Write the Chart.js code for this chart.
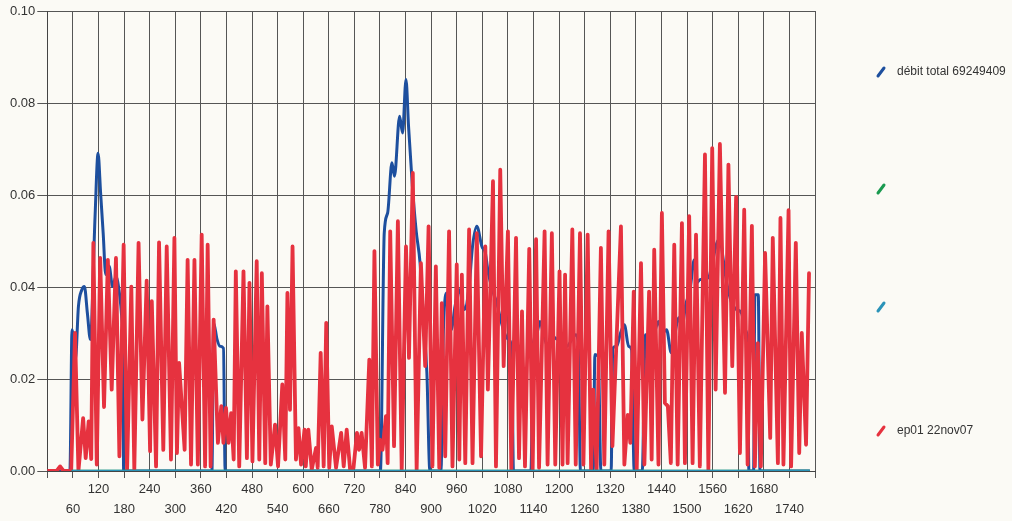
<!DOCTYPE html>
<html>
<head>
<meta charset="utf-8">
<script src="https://cdn.jsdelivr.net/npm/chart.js@4"></script>
<style>
  body { margin: 0; background: #fbfaf5; }
  #wrap { width: 1012px; height: 521px; }
</style>
</head>
<body>
<div id="wrap"><canvas id="chart"></canvas></div>
<script>
// time (x) and rate (y)
const redTime = [
  0, 22, 30, 38, 56, 65, 73, 84, 90, 97,
  103, 108, 116, 124, 133, 142, 151, 161, 169, 179,
  187, 197, 204, 214, 223, 233, 241, 245, 255, 262,
  272, 280, 290, 298, 304, 309, 322, 329, 337, 345,
  353, 362, 370, 376, 383, 390, 400, 408, 413, 419,
  425, 431, 437, 442, 450, 460, 468, 474, 481, 491,
  497, 503, 511, 516, 524, 534, 541, 551, 558, 563,
  569, 575, 583, 589, 595, 603, 606, 612, 620, 630,
  634, 641, 648, 654, 661, 667, 677, 689, 695, 702,
  710, 718, 726, 731, 737, 745, 755, 761, 767, 775,
  780, 786, 794, 798, 804, 813, 822, 831, 841, 848,
  857, 866, 876, 886, 894, 903, 911, 919, 925, 933,
  942, 950, 960, 966, 972, 980, 989, 997, 1007, 1017,
  1027, 1033, 1045, 1052, 1062, 1070, 1080, 1088, 1099, 1106,
  1113, 1120, 1130, 1138, 1146, 1153, 1166, 1173, 1183, 1191,
  1201, 1208, 1214, 1220, 1231, 1239, 1249, 1257, 1267, 1275,
  1280, 1288, 1298, 1306, 1316, 1325, 1345, 1353, 1361, 1367,
  1375, 1382, 1392, 1400, 1411, 1417, 1423, 1433, 1441, 1448,
  1455, 1462, 1470, 1478, 1488, 1495, 1505, 1513, 1521, 1530,
  1542, 1550, 1559, 1567, 1577, 1589, 1597, 1606, 1615, 1624,
  1634, 1642, 1652, 1659, 1666, 1673, 1683, 1695, 1701, 1713,
  1719, 1726, 1738, 1744, 1755, 1763, 1769, 1779, 1786
]
const redRate = [
  0, 0, 0.001, 0, 0, 0.030, 0, 0.0115, 0.0028, 0.0108,
  0.0026, 0.0496, 0.0014, 0.0463, 0.0139, 0.0459, 0.0177, 0.0463, 0.0032, 0.0492,
  0, 0.0401, 0.0003, 0.0496, 0.0112, 0.0414, 0.0043, 0.0369, 0.001, 0.0497,
  0.0046, 0.0488, 0.0025, 0.0507, 0.0039, 0.0235, 0.0046, 0.0459, 0.0014, 0.0459,
  0.0014, 0.0514, 0.001, 0.0492, 0.001, 0.0329, 0.0061, 0.0141, 0.0061, 0.0137,
  0.0061, 0.0126, 0.0025, 0.0434, 0.001, 0.0434, 0.0028, 0.0409, 0.0021, 0.0456,
  0.0025, 0.043, 0.0017, 0.0358, 0.0014, 0.0101, 0.001, 0.0188, 0.0025, 0.0387,
  0.0133, 0.0488, 0.0025, 0.0093, 0.0014, 0.009, 0.001, 0.009, 0.0003, 0.005,
  0.0007, 0.0257, 0.001, 0.0322, 0.0007, 0.0097, 0.0007, 0.0083, 0.001, 0.009,
  0.0003, 0.0007, 0.0083, 0.0046, 0.0083, 0.0007, 0.0242, 0.001, 0.0478, 0.0014,
  0.0068, 0.0046, 0.0119, 0.0017, 0.0521, 0.0054, 0.0543, 0.0003, 0.0488, 0.0246,
  0.0648, 0.0003, 0.0452, 0.0228, 0.0532, 0.001, 0.0445, 0.0007, 0.0365, 0.0032,
  0.0521, 0.001, 0.0449, 0.0025, 0.0427, 0.0017, 0.0525, 0.0017, 0.0517, 0.0032,
  0.0488, 0.0177, 0.063, 0.001, 0.0655, 0.0228, 0.0521, 0.0003, 0.0507, 0.0028,
  0.0347, 0.001, 0.0483, 0.0003, 0.0504, 0.0007, 0.0521, 0.0014, 0.0517, 0.0014,
  0.0434, 0.0014, 0.0427, 0.0017, 0.0525, 0.0014, 0.0517, 0.0014, 0.0514, 0.0003,
  0.0177, 0.0003, 0.0485, 0.0014, 0.0521, 0.0054, 0.0532, 0.0014, 0.0122, 0.0061,
  0.039, 0.0003, 0.0452, 0.0014, 0.039, 0.0025, 0.0481, 0.0014, 0.0561, 0.0148,
  0.0141, 0.0017, 0.0492, 0.0014, 0.0539, 0.0017, 0.0554, 0.0017, 0.0514, 0.001,
  0.0688, 0.0003, 0.0702, 0.0177, 0.0711, 0.017, 0.0666, 0.0228, 0.0596, 0.0039,
  0.0568, 0.0014, 0.0533, 0.001, 0.0278, 0.001, 0.0474, 0.0072, 0.0507, 0.0017,
  0.055, 0.0014, 0.0567, 0.001, 0.0496, 0.0039, 0.03, 0.0057, 0.043
]

const blueTime = [
  0, 53, 58, 66, 73, 81, 87, 94, 101, 112,
  119, 125, 131, 137, 145, 153, 161, 169, 175, 177,
  179, 386, 390, 398, 405, 413, 417, 781,
  790, 798, 808, 814, 826, 833, 841, 847, 856, 865,
  874, 882, 890, 897, 923, 929, 937, 947, 956, 966,
  978, 989, 997, 1007, 1019, 1027, 1034, 1046, 1054, 1063,
  1072, 1081, 1089, 1093, 1134, 1139, 1148, 1155, 1163, 1175,
  1184, 1197, 1206, 1218, 1230, 1239, 1245, 1250, 1280, 1284,
  1292, 1298, 1322, 1326, 1335, 1344, 1353, 1363, 1370, 1376,
  1395, 1402, 1413, 1423, 1433, 1442, 1452, 1463, 1472, 1480,
  1488, 1497, 1507, 1517, 1523, 1530, 1550, 1559, 1570, 1577,
  1585, 1593, 1605, 1616, 1628, 1636, 1642, 1645, 1656, 1659,
  1667, 1671, 1788
]
const blueRate = [
  0, 0, 0.0307, 0.0242, 0.0358, 0.0394, 0.0401, 0.0343, 0.0286, 0.0554,
  0.0691, 0.0604, 0.0517, 0.0427, 0.0445, 0.0401, 0.0423, 0.0387, 0.0329, 0.028,
  0, 0, 0.0322, 0.0286, 0.0271, 0.0267, 0, 0,
  0.0517, 0.0561, 0.067, 0.0641, 0.0771, 0.0735, 0.0851, 0.0749, 0.0619, 0.0521,
  0.0452, 0.0329, 0.0213, 0, 0, 0.0314, 0.0387, 0.0307, 0.0358, 0.0394,
  0.0351, 0.0401, 0.0488, 0.0532, 0.0488, 0.0474, 0.043, 0.0387, 0.0365, 0.0329,
  0.03, 0.0286, 0.0264, 0, 0, 0.0271, 0.03, 0.0325, 0.03, 0.0267,
  0.0293, 0.0286, 0.0293, 0.0271, 0.0286, 0.0296, 0.0278, 0, 0, 0.0253,
  0.0249, 0, 0, 0.0267, 0.0271, 0.03, 0.0318, 0.0271, 0.0264, 0,
  0, 0.0296, 0.0293, 0.03, 0.0325, 0.03, 0.0307, 0.0257, 0.03, 0.0333,
  0.0314, 0.0362, 0.0394, 0.0459, 0.0409, 0.0416, 0.042, 0.0452, 0.0496, 0.0503,
  0.0459, 0.0409, 0.0365, 0.0351, 0.0343, 0.0307, 0.0286, 0, 0, 0.0383,
  0.0383, 0, 0
]

// the two empty series stay flat on zero
const flatTime = [57, 1788]
const greenRate = [0, 0]
const cyanRate = [0, 0]

const seriesLabels = ['débit total 69249409', '', '', 'ep01 22nov07']
const seriesColors = ['#1d4f9e', '#1a9a50', '#2b93b8', '#e6323f']

function pairs(xs, ys) {
  return xs.map((x, i) => ({ x: x, y: ys[i] }))
}

// legend drawn by hand: little slanted strokes, items spread down the right side
const slashLegend = {
  id: 'slashLegend',
  afterDraw(chart, args, opts) {
    const ctx = chart.ctx
    ctx.save()
    chart.data.datasets.forEach((ds, i) => {
      const y = opts.rows[i]
      ctx.strokeStyle = ds.borderColor
      ctx.lineWidth = 3
      ctx.lineCap = 'round'
      ctx.beginPath()
      ctx.moveTo(opts.left, y + 4)
      ctx.lineTo(opts.left + 6, y - 4)
      ctx.stroke()
      ctx.fillStyle = '#333'
      ctx.font = '12px "Liberation Sans", Arial, sans-serif'
      ctx.textBaseline = 'middle'
      ctx.fillText(ds.label, opts.left + 19, y)
    })
    ctx.restore()
  }
}

const ctx = document.getElementById('chart')
new Chart(ctx, {
  type: 'line',
  data: {
    datasets: [
      { label: seriesLabels[0], data: pairs(blueTime, blueRate), borderColor: seriesColors[0],
        borderWidth: 3, pointRadius: 0, cubicInterpolationMode: 'monotone', order: 4 },
      { label: seriesLabels[1], data: pairs(flatTime, greenRate), borderColor: seriesColors[1],
        borderWidth: 2.5, pointRadius: 0, order: 2 },
      { label: seriesLabels[2], data: pairs(flatTime, cyanRate), borderColor: seriesColors[2],
        borderWidth: 2.5, pointRadius: 0, order: 1 },
      { label: seriesLabels[3], data: pairs(redTime, redRate), borderColor: seriesColors[3],
        borderWidth: 3.8, borderJoinStyle: 'round', borderCapStyle: 'round',
        pointRadius: 0, tension: 0, order: 3 }
    ]
  },
  options: {
    responsive: true,
    maintainAspectRatio: false,
    animation: false,
    layout: { padding: { left: 8, top: 11, right: 197, bottom: 0 } },
    plugins: {
      legend: { display: false },
      tooltip: { enabled: false },
      slashLegend: { left: 878, rows: [72, 189, 307, 431] }
    },
    scales: {
      x: {
        type: 'linear',
        min: 0,
        max: 1800,
        grid: { color: '#555', lineWidth: 1, tickLength: 7 },
        border: { color: '#444' },
        ticks: {
          stepSize: 60,
          autoSkip: false,
          maxRotation: 0,
          padding: 2,
          color: '#333',
          font: { family: '"Liberation Sans", Arial, sans-serif', size: 13, lineHeight: 1.5 },
          callback: function (v) {
            if (v === 0 || v >= 1800) return ''
            return (v / 60) % 2 === 1 ? ['', String(v)] : String(v)
          }
        }
      },
      y: {
        min: 0,
        max: 0.1,
        grid: { color: '#555', lineWidth: 1, tickLength: 10 },
        border: { color: '#444' },
        ticks: {
          stepSize: 0.02,
          padding: 2,
          color: '#333',
          font: { family: '"Liberation Sans", Arial, sans-serif', size: 13 },
          callback: v => v.toFixed(2)
        }
      }
    }
  },
  plugins: [slashLegend]
})
</script>
</body>
</html>
